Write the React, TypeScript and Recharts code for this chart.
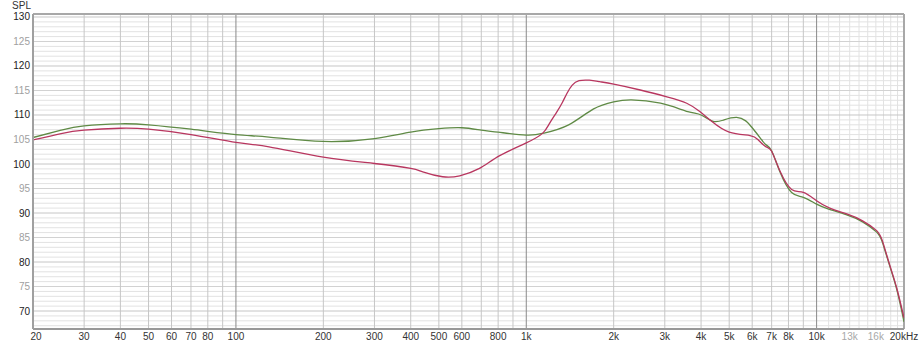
import React from 'react';
import { LineChart, Line, XAxis, YAxis, CartesianGrid } from 'recharts';

const GREEN_F = [20, 25, 30, 40, 50, 70, 100, 130, 200, 300, 400, 500, 600, 700, 800, 1000, 1150, 1400, 1700, 2000, 2300, 2900, 3600, 4000, 4400, 4800, 5300, 5700, 6000, 6400, 6700, 7000, 7500, 8200, 9000, 10000, 11000, 12700, 14400, 16100, 16900, 17900, 18900, 20000];
const GREEN_DB = [105.4, 106.9, 107.8, 108.2, 108.0, 107.1, 106.0, 105.5, 104.6, 105.2, 106.5, 107.2, 107.4, 106.9, 106.5, 105.9, 106.3, 108.0, 111.2, 112.7, 113.1, 112.4, 110.7, 110.0, 108.7, 109.0, 109.5, 108.8, 107.4, 105.3, 103.9, 102.7, 98.2, 94.2, 93.2, 91.8, 90.8, 89.6, 88.2, 86.1, 83.8, 79.0, 74.3, 67.8];

const RED_F = [20, 25, 30, 40, 50, 70, 100, 130, 200, 300, 400, 440, 515, 590, 690, 810, 1000, 1140, 1200, 1270, 1330, 1380, 1440, 1520, 1650, 1790, 2000, 2470, 3050, 3570, 3960, 4350, 5000, 5900, 6300, 6700, 7000, 7500, 8200, 9000, 10000, 11100, 12700, 14400, 16100, 16900, 17900, 18900, 20000];
const RED_DB = [104.9, 106.2, 106.9, 107.3, 107.1, 106.0, 104.4, 103.5, 101.4, 100.1, 99.1, 98.4, 97.4, 97.6, 99.1, 101.7, 104.3, 106.3, 108.2, 110.5, 112.5, 114.4, 116.1, 117.0, 117.1, 116.8, 116.3, 115.1, 113.7, 112.4, 110.7, 108.7, 106.5, 105.8, 104.9, 103.5, 102.6, 98.4, 94.8, 94.2, 92.5, 91.0, 89.8, 88.4, 86.4, 84.1, 79.2, 74.6, 68.6];

const X_TICKS = [20, 30, 40, 50, 60, 70, 80, 100, 200, 300, 400, 500, 600, 800, 1000, 2000, 3000, 4000, 5000, 6000, 7000, 8000, 10000, 13000, 16000, 20000];
const Y_TICKS = [70, 75, 80, 85, 90, 95, 100, 105, 110, 115, 120, 125, 130];

const Y_MIN = 66.33;
const Y_MAX = 130.61;

const greenData = GREEN_F.map((f, i) => ({ f, v: GREEN_DB[i] }));
const redData = RED_F.map((f, i) => ({ f, v: RED_DB[i] }));

const H_MINOR: number[] = [];
const H_FIVE: number[] = [];
const H_TEN: number[] = [];
for (let d = 67; d <= 130; d++) {
  if (d % 10 === 0) H_TEN.push(d);
  else if (d % 5 === 0) H_FIVE.push(d);
  else H_MINOR.push(d);
}
const V_NORMAL: number[] = [];
const V_DECADE = [100, 1000, 10000];
const V_LIGHT: number[] = [];
for (let f = 30; f < 100; f += 10) V_NORMAL.push(f);
for (let f = 200; f < 1000; f += 100) V_NORMAL.push(f);
for (let f = 2000; f < 10000; f += 1000) V_NORMAL.push(f);
for (let f = 11000; f < 20000; f += 1000) V_LIGHT.push(f);

const FONT = '"Liberation Sans", Arial, sans-serif';

const fmtX = (f: number) => {
  if (f === 20000) return '20kHz';
  if (f >= 1000) return `${f / 1000}k`;
  return String(f);
};

const XTick = (props: any) => {
  const { x, y, payload } = props;
  const v = payload.value as number;
  const grey = v === 13000 || v === 16000;
  return (
    <text x={v === 20 ? x + 3 : x} y={y} dy={9} textAnchor="middle" fontFamily={FONT} fontSize={10} fill={grey ? '#a8a8a8' : '#333'}>
      {fmtX(v)}
    </text>
  );
};

const YTick = (props: any) => {
  const { y, payload } = props;
  const v = payload.value as number;
  const dark = v % 10 === 0;
  return (
    <g>
      <text x={30} y={y} dy={3.5} textAnchor="end" fontFamily={FONT} fontSize={10} fill={dark ? '#222' : '#a0a0a0'}>
        {v}
      </text>
      {v === 130 ? (
        <text x={31} y={y} dy={-8.5} textAnchor="end" fontFamily={FONT} fontSize={10} fill="#333">
          SPL
        </text>
      ) : null}
    </g>
  );
};

export default function App() {
  return (
    <div style={{ position: 'absolute', left: 0, top: 0, background: '#fff' }}>
      <LineChart width={920} height={348} margin={{ top: 14, right: 16, bottom: 0, left: 0 }}>
        <CartesianGrid horizontalValues={H_MINOR} verticalValues={V_LIGHT} stroke="#e2e2e2" strokeWidth={1} />
        <CartesianGrid horizontalValues={H_FIVE} vertical={false} stroke="#d2d2d2" strokeWidth={1} />
        <CartesianGrid horizontalValues={H_TEN} verticalValues={V_NORMAL} stroke="#c6c6c6" strokeWidth={1} />
        <CartesianGrid horizontal={false} verticalValues={V_DECADE} stroke="#8a8a8a" strokeWidth={1} />
        <CartesianGrid horizontalValues={[Y_MAX]} verticalValues={[20000]} stroke="#a8a8a8" strokeWidth={2} />
        <XAxis
          dataKey="f"
          type="number"
          scale="log"
          domain={[20, 20000]}
          allowDataOverflow
          ticks={X_TICKS}
          interval={0}
          tick={<XTick />}
          tickLine={false}
          tickSize={0}
          tickMargin={2}
          axisLine={{ stroke: '#999', strokeWidth: 2 }}
          height={19}
        />
        <YAxis
          type="number"
          domain={[Y_MIN, Y_MAX]}
          allowDataOverflow
          ticks={Y_TICKS}
          interval={0}
          tick={<YTick />}
          tickLine={false}
          tickSize={0}
          axisLine={{ stroke: '#a0a0a0', strokeWidth: 2 }}
          width={33}
        />
        <Line data={greenData} dataKey="v" type="natural" stroke="#5f8a45" strokeWidth={1.3} dot={false} isAnimationActive={false} />
        <Line data={redData} dataKey="v" type="natural" stroke="#b8365f" strokeWidth={1.3} dot={false} isAnimationActive={false} />
      </LineChart>
    </div>
  );
}
